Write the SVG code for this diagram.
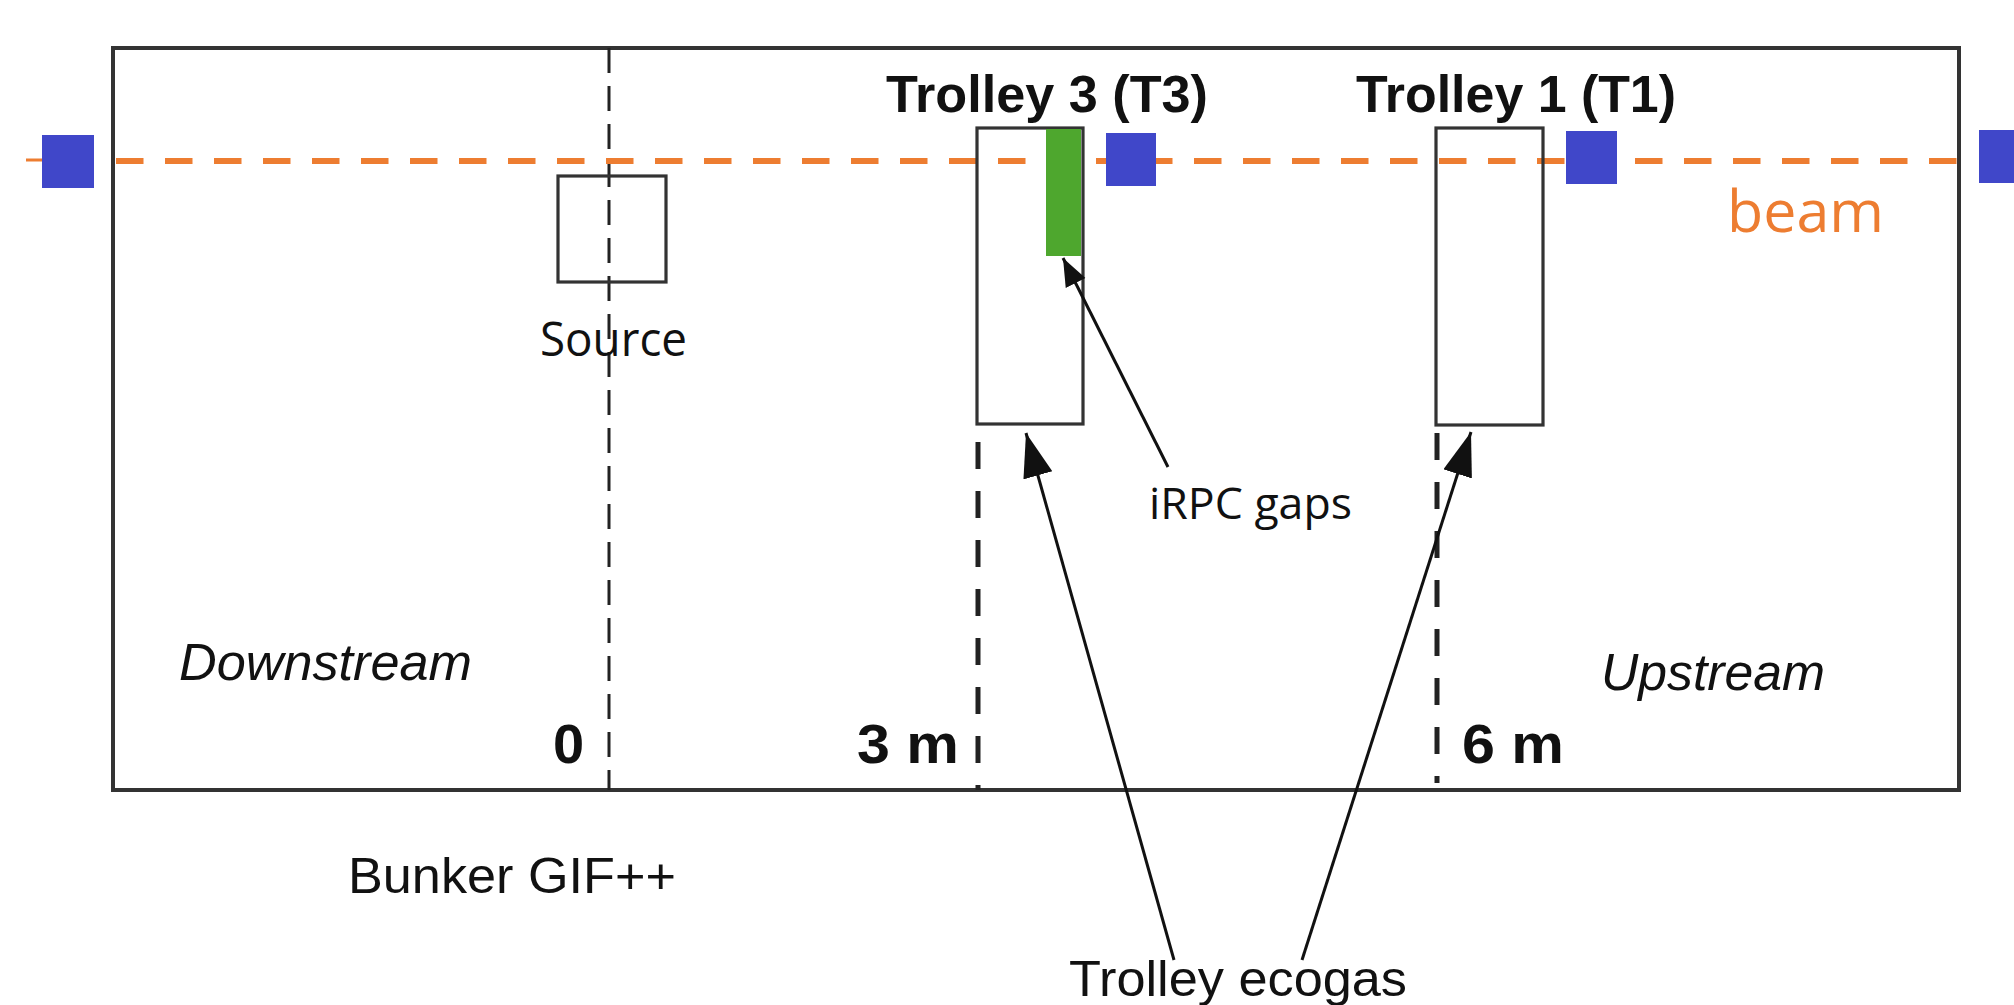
<svg xmlns="http://www.w3.org/2000/svg" width="2014" height="1005" viewBox="0 0 2014 1005">
  <defs>
    <style>
      .frame { fill: none; stroke: #333; stroke-width: 4; }
      .box { fill: none; stroke: #333; stroke-width: 3.2; }
      .det { fill: #4047c9; }
      .gap { fill: #4ea72e; }
      .beam { stroke: #ed7d31; stroke-width: 6; fill: none; }
      .axis { stroke: #222; fill: none; }
      .conn { stroke: #111; stroke-width: 3; fill: none; }
      .lbl { font-family: "Liberation Sans", Arial, sans-serif; fill: #111; }
      .bold { font-weight: bold; }
      .ital { font-style: italic; }
      .soft { font-family: "Open Sans", "Noto Sans", sans-serif; fill: #111; }
    </style>
    <marker id="head-lg" markerUnits="userSpaceOnUse" markerWidth="46" markerHeight="32" refX="44" refY="15" orient="auto">
      <path d="M0,0 L44,15 L0,30 Z" fill="#111"/>
    </marker>
    <marker id="head-sm" markerUnits="userSpaceOnUse" markerWidth="30" markerHeight="24" refX="28" refY="11" orient="auto">
      <path d="M0,0 L28,11 L0,22 Z" fill="#111"/>
    </marker>
  </defs>

  <rect width="2014" height="1005" fill="#fff"/>

  <!-- bunker outline -->
  <g id="bunker">
    <rect class="frame" x="113" y="48" width="1846" height="742"/>
  </g>

  <!-- position markers -->
  <g id="axes">
    <line class="axis" x1="609" y1="48" x2="609" y2="790" stroke-width="3" stroke-dasharray="25 13"/>
    <line class="axis" x1="978" y1="442" x2="978" y2="790" stroke-width="5" stroke-dasharray="27 22"/>
    <line class="axis" x1="1437" y1="433" x2="1437" y2="783" stroke-width="5" stroke-dasharray="27 22"/>
  </g>

  <!-- beam line -->
  <g id="beam">
    <line class="beam" x1="116" y1="161" x2="1959" y2="161" stroke-dasharray="27.5 21.5"/>
    <line x1="26" y1="160" x2="42" y2="160" stroke="#ed7d31" stroke-width="3"/>
  </g>

  <g id="source">
    <rect class="box" x="558" y="176" width="108" height="106"/>
    <text class="soft" x="540" y="356" font-size="47" textLength="147" lengthAdjust="spacingAndGlyphs">Source</text>
  </g>

  <g id="trolley3">
    <rect class="box" x="977" y="128" width="106" height="296"/>
    <rect class="gap" x="1046" y="129" width="35" height="127"/>
    <text class="lbl bold" x="886" y="112" font-size="52" textLength="322" lengthAdjust="spacingAndGlyphs">Trolley 3 (T3)</text>
  </g>

  <g id="trolley1">
    <rect class="box" x="1436" y="128" width="107" height="297"/>
    <text class="lbl bold" x="1356" y="112" font-size="52" textLength="320" lengthAdjust="spacingAndGlyphs">Trolley 1 (T1)</text>
  </g>

  <g id="detectors">
    <rect class="det" x="42" y="135" width="52" height="53"/>
    <rect class="det" x="1106" y="133" width="50" height="53"/>
    <rect class="det" x="1566" y="131" width="51" height="53"/>
    <rect class="det" x="1979" y="130" width="40" height="53"/>
  </g>

  <g id="beam-label">
    <text x="1727" y="232" font-family="Open Sans, Noto Sans, sans-serif" font-size="58" fill="#ed7d31" textLength="157" lengthAdjust="spacingAndGlyphs">beam</text>
  </g>

  <g id="irpc-label">
    <text class="soft" x="1149" y="519" font-size="43" textLength="203" lengthAdjust="spacingAndGlyphs">iRPC gaps</text>
  </g>

  <g id="ecogas-label">
    <text class="lbl" x="1069" y="996" font-size="50" textLength="338" lengthAdjust="spacingAndGlyphs">Trolley ecogas</text>
  </g>

  <g id="distances">
    <text class="lbl bold" x="553" y="763" font-size="56">0</text>
    <text class="lbl bold" x="857" y="763" font-size="56" textLength="102" lengthAdjust="spacingAndGlyphs">3 m</text>
    <text class="lbl bold" x="1462" y="763" font-size="56" textLength="102" lengthAdjust="spacingAndGlyphs">6 m</text>
  </g>

  <g id="directions">
    <text class="lbl ital" x="179" y="680" font-size="52" textLength="293" lengthAdjust="spacingAndGlyphs">Downstream</text>
    <text class="lbl ital" x="1601" y="690" font-size="52" textLength="224" lengthAdjust="spacingAndGlyphs">Upstream</text>
  </g>

  <g id="title">
    <text class="lbl" x="348" y="893" font-size="50" textLength="328" lengthAdjust="spacingAndGlyphs">Bunker GIF++</text>
  </g>

  <!-- callout arrows -->
  <g id="connectors">
    <line class="conn" x1="1168" y1="467" x2="1063" y2="258" marker-end="url(#head-sm)"/>
    <line class="conn" x1="1174" y1="960" x2="1026" y2="433" marker-end="url(#head-lg)"/>
    <line class="conn" x1="1302" y1="960" x2="1471" y2="432" marker-end="url(#head-lg)"/>
  </g>
</svg>
